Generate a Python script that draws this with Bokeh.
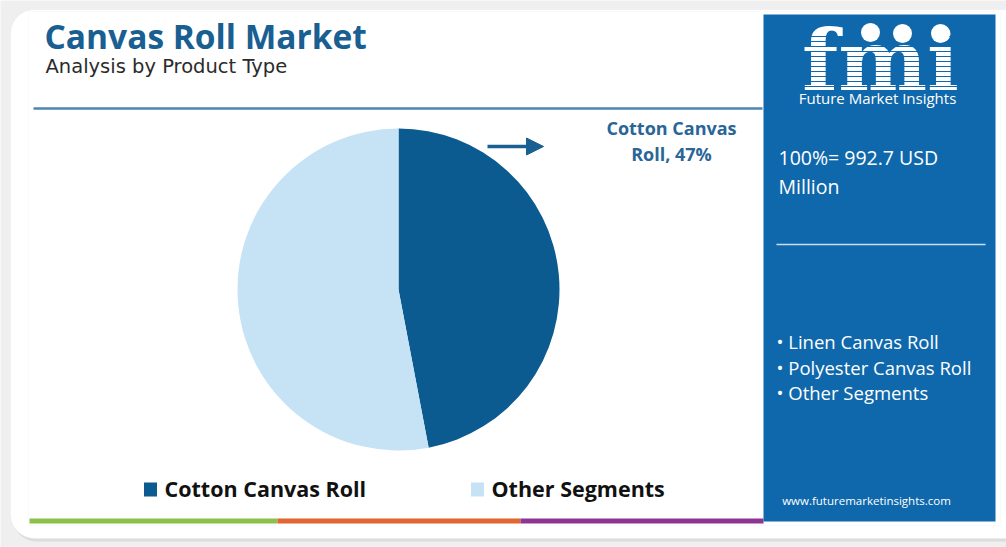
import math
from bokeh.plotting import figure
from bokeh.models import Range1d, BoxAnnotation, Arrow, NormalHead
from bokeh.core.properties import value
from bokeh.embed import file_html
from bokeh.resources import INLINE

# ---- data ----
title = "Canvas Roll Market"
subtitle = "Analysis by Product Type"
segments = ["Cotton Canvas Roll", "Other Segments"]
shares = [47, 53]
colors = ["#0b5b91", "#c6e2f5"]
total_label = ["100%= 992.7 USD", "Million"]
bullets = ["• Linen Canvas Roll", "• Polyester Canvas Roll", "• Other Segments"]
callout = ["Cotton Canvas", "Roll, 47%"]
website = "www.futuremarketinsights.com"

W, H = 1006, 547
def Y(v):
    return H - v

p = figure(width=W, height=H, x_range=Range1d(0, W), y_range=Range1d(0, H),
           output_backend="svg", toolbar_location=None, min_border=0)
p.axis.visible = False
p.grid.visible = False
p.outline_line_color = None
p.background_fill_color = "#efefef"
p.border_fill_color = "#efefef"

# card shadow + card
p.add_layout(BoxAnnotation(left=12, right=1030, top=Y(12), bottom=Y(541), fill_color="#dcdcdc",
                           fill_alpha=1, line_color=None, border_radius=24, level="underlay"))
p.add_layout(BoxAnnotation(left=10, right=1030, top=Y(9), bottom=Y(538), fill_color="#ffffff",
                           fill_alpha=1, line_color="#e4e4e4", border_radius=24, level="underlay"))
# inner panel
p.add_layout(BoxAnnotation(left=28, right=1000, top=Y(11), bottom=Y(525), fill_color="#ffffff",
                           fill_alpha=1, line_color="#e8eef3", line_width=1, level="underlay"))

# title
p.text(x=[44], y=[Y(35)], text=[title], text_font=value("Open Sans"), text_font_style="bold",
       text_font_size="33.5px", text_color="#1a5f91", text_baseline="middle")
p.text(x=[45], y=[Y(66)], text=[subtitle], text_font=value("DejaVu Sans"),
       text_font_size="19.5px", text_color="#2b2b2b", text_baseline="middle")
p.line(x=[33, 762], y=[Y(108), Y(108)], line_color="#4d86ae", line_width=2.5)

# pie
cx, cy, r = 398, Y(289), 161
start = math.pi / 2
for s, c in zip(shares, colors):
    end = start - s / sum(shares) * 2 * math.pi
    p.wedge(x=[cx], y=[cy], radius=r, start_angle=start, end_angle=end, direction="clock",
            fill_color=c, line_color=None)
    start = end

# callout
p.add_layout(Arrow(end=NormalHead(size=17, fill_color="#1a5f91", line_color="#1a5f91"),
                   x_start=487, y_start=Y(146), x_end=543, y_end=Y(146),
                   line_color="#1a5f91", line_width=3.5))
p.text(x=[671, 671], y=[Y(127), Y(153)], text=callout, text_font=value("Open Sans"),
       text_font_style="bold", text_font_size="18px", text_color="#2a6597",
       text_align="center", text_baseline="middle")

# legend
lx = [150, 477]
tx = [164, 491]
p.rect(x=lx, y=[Y(489)] * 2, width=13, height=14, fill_color=colors, line_color=None)
p.text(x=tx, y=[Y(488)] * 2, text=segments, text_font=value("Open Sans"), text_font_style="bold",
       text_font_size="21.5px", text_color="#111111", text_baseline="middle")

# bottom color bar
p.quad(left=[29, 277, 520], right=[277, 520, 763], top=[Y(518)] * 3, bottom=[Y(523)] * 3,
       fill_color=["#8cc04b", "#e0652f", "#8d3592"], line_color=None)

# right panel
p.quad(left=[763], right=[995], top=[Y(14)], bottom=[Y(521)], fill_color="#0f68ab", line_color=None)

# logo
p.text(x=[880], y=[Y(60)], text=["fmi"], text_font=value("DejaVu Serif"), text_font_style="bold",
       text_font_size="84px", text_color="#ffffff", text_align="center", text_baseline="middle")
stripe_y = [Y(v) for v in range(36, 92, 5)]
for sy in stripe_y:
    p.line(x=[790, 970], y=[sy, sy], line_color="#0f68ab", line_width=1.2)
p.scatter(x=[870, 902, 940], y=[Y(32), Y(33), Y(33)], size=19, fill_color="#ffffff", line_color=None)
p.text(x=[877], y=[Y(97)], text=["Future Market Insights"], text_font=value("Open Sans"),
       text_font_size="15px", text_color="#ffffff", text_align="center", text_baseline="middle")

p.text(x=[778, 778], y=[Y(157), Y(186)], text=total_label, text_font=value("Open Sans"),
       text_font_size="19.5px", text_color="#ffffff", text_baseline="middle")
p.line(x=[776, 985], y=[Y(244), Y(244)], line_color="#c9def0", line_width=1.5)
p.text(x=[776] * 3, y=[Y(341), Y(367), Y(392)], text=bullets, text_font=value("Open Sans"),
       text_font_size="18.5px", text_color="#ffffff", text_baseline="middle")
p.text(x=[866], y=[Y(500)], text=[website], text_font=value("Open Sans"),
       text_font_size="11.5px", text_color="#ffffff", text_align="center", text_baseline="middle")

open("out.html", "w").write(file_html(p, INLINE))
